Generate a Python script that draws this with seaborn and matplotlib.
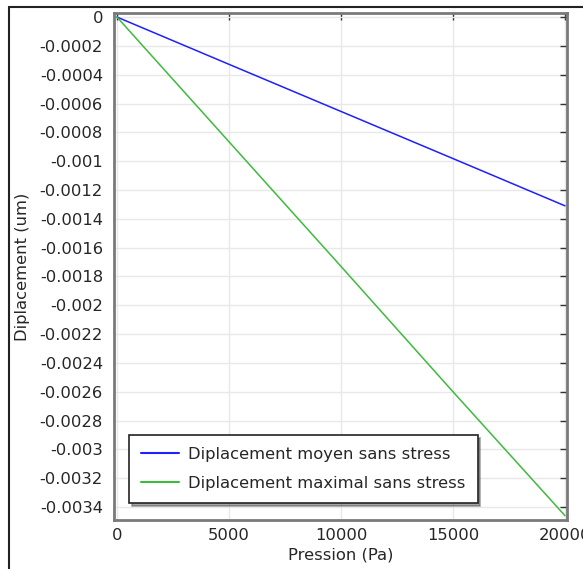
import pandas as pd
import seaborn as sns
import matplotlib.pyplot as plt
from matplotlib.lines import Line2D

# Values
pression = [0, 5000, 10000, 15000, 20000]
depl_moyen = [0.0, -0.000328, -0.000655, -0.000982, -0.00131]
depl_max = [0.0, -0.000865, -0.00173, -0.0026, -0.00346]
series_names = ['Diplacement moyen sans stress', 'Diplacement maximal sans stress']
series_colors = ['#1f1fff', '#3dbb3d']
x_ticks = [0, 5000, 10000, 15000, 20000]
y_ticks = [-0.0034, -0.0032, -0.003, -0.0028, -0.0026, -0.0024, -0.0022, -0.002,
           -0.0018, -0.0016, -0.0014, -0.0012, -0.001, -0.0008, -0.0006, -0.0004,
           -0.0002, 0]

df = pd.DataFrame({
    'Pression': pression * 2,
    'Displacement': depl_moyen + depl_max,
    'Serie': [series_names[0]] * len(pression) + [series_names[1]] * len(pression),
})

sns.set_style("white")
plt.rcParams['font.family'] = ['DejaVu Sans']
plt.rcParams['axes.unicode_minus'] = False
FS = 11.8

fig = plt.figure(figsize=(5.83, 5.69), dpi=100)
ax = fig.add_axes([114 / 583, 1 - 520 / 569, 453 / 583, 507 / 569])

sns.lineplot(data=df, x='Pression', y='Displacement', hue='Serie',
             palette=dict(zip(series_names, series_colors)), linewidth=1.1, ax=ax)

ax.set_xlim(-130, 20090)
ax.set_ylim(-0.00349, 0.000028)
ax.set_xticks(x_ticks)
ax.set_xticklabels([str(t) for t in x_ticks])
ax.set_yticks(y_ticks)
ax.set_yticklabels([('%g' % t) if t != 0 else '0' for t in y_ticks])
ax.grid(True, color='#e8e8e8', linewidth=1.0)
ax.set_axisbelow(True)

for sp in ax.spines.values():
    sp.set_color('#7a7a7a')
    sp.set_linewidth(2.0)
ax.tick_params(direction='in', length=5, width=1, color='#333333',
               top=True, right=True, labelsize=FS)
ax.tick_params(axis='x', pad=6)
ax.tick_params(axis='y', pad=8)

ax.set_xlabel('Pression (Pa)', fontsize=FS, labelpad=3)
ax.set_ylabel('Diplacement (um)', fontsize=FS, labelpad=7)

leg = ax.legend(loc='lower left', bbox_to_anchor=(0.033, 0.033), fontsize=FS,
                frameon=True, fancybox=False, shadow=True, framealpha=1,
                handlelength=2.3, handletextpad=0.55, borderpad=0.75,
                labelspacing=0.85, borderaxespad=0, title=None)
leg.get_frame().set_edgecolor('#222222')
leg.get_frame().set_linewidth(1.2)
for h in leg.get_lines():
    h.set_linewidth(1.5)

# outer frame of the figure
fig.add_artist(Line2D([9 / 583, 9 / 583], [0, 1 - 7 / 569], color='#222222', lw=1.5))
fig.add_artist(Line2D([9 / 583, 1], [1 - 7 / 569, 1 - 7 / 569], color='#222222', lw=1.5))

fig.savefig('out.png', dpi=100)
